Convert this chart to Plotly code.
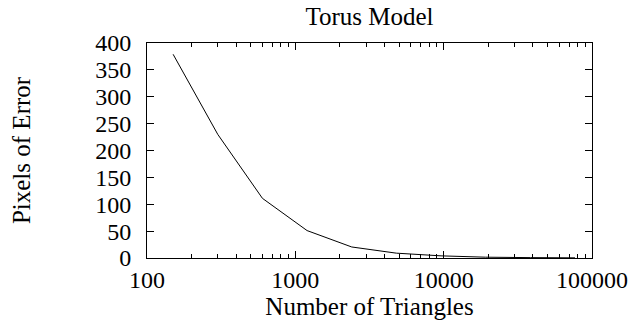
import plotly.graph_objects as go

triangles = [150, 300, 600, 1200, 2400, 4800, 9600, 19200, 38400, 76800]
pixel_error = [379, 230, 111, 51, 20.5, 9, 4, 1.5, 0.7, 0.3]

x_tickvals = [100, 1000, 10000, 100000]
x_ticktext = ["100", "1000", "10000", "100000"]
y_tickvals = [0, 50, 100, 150, 200, 250, 300, 350, 400]

FONT = "Liberation Serif"

fig = go.Figure(go.Scatter(
    x=triangles, y=pixel_error, mode="lines",
    line=dict(color="black", width=1), showlegend=False))

fig.update_layout(
    width=630, height=321,
    margin=dict(l=147, r=38, t=43, b=63),
    paper_bgcolor="white", plot_bgcolor="white",
    font=dict(family=FONT, size=24, color="black"),
    title=dict(text="Torus Model", x=0.5, xref="paper", xanchor="center",
               y=1, yref="container", yanchor="top", pad=dict(t=7),
               font=dict(family=FONT, size=25, color="black")),
)

fig.update_xaxes(
    type="log", range=[2, 5],
    tickvals=x_tickvals, ticktext=x_ticktext,
    ticks="inside", ticklen=7, tickwidth=1, tickcolor="black",
    showline=True, linecolor="black", linewidth=1, mirror="ticks",
    showgrid=False, zeroline=False, automargin=False,
    ticklabelstandoff=0,
    tickfont=dict(family=FONT, size=24),
    minor=dict(ticks="inside", ticklen=4, tickwidth=1, tickcolor="black",
               dtick="D1", showgrid=False),
    title=dict(text="Number of Triangles", standoff=0,
               font=dict(family=FONT, size=25)),
)

fig.update_yaxes(
    range=[0, 400], tickvals=y_tickvals,
    ticks="inside", ticklen=7, tickwidth=1, tickcolor="black",
    showline=True, linecolor="black", linewidth=1, mirror="ticks",
    showgrid=False, zeroline=False, automargin=False,
    ticklabelstandoff=10,
    tickfont=dict(family=FONT, size=24),
    title=dict(text="Pixels of Error", standoff=57,
               font=dict(family=FONT, size=25)),
)

fig.write_html("out.html")
